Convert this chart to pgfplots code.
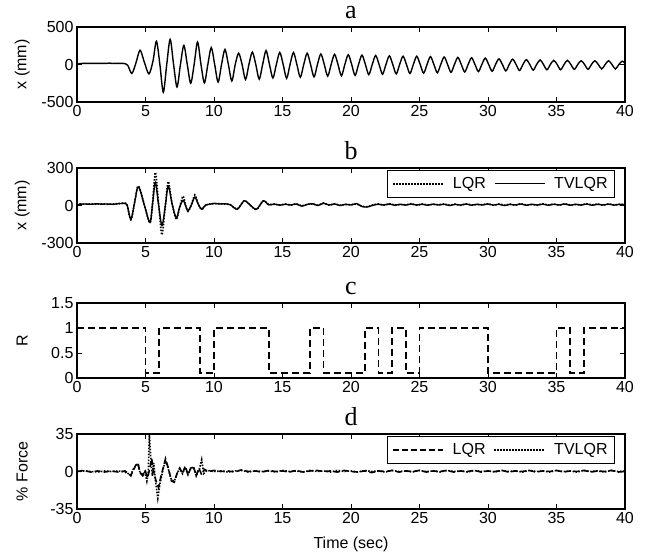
\documentclass[border=0pt]{standalone}
\usepackage{pgfplots}
\pgfplotsset{compat=1.18}
\usepackage{fontspec}
\setmainfont{Liberation Sans}
\newfontfamily\titlefont{Liberation Serif}
\begin{document}
\begin{tikzpicture}
\useasboundingbox (0,0) rectangle (646pt,557pt);
\pgfplotsset{
  panel/.style={
    scale only axis, width=548pt, height=75pt,
    xmin=0, xmax=40, xtick={0,5,...,40},
    tick align=inside, tick pos=both,
    major tick length=5pt,
    every tick/.style={black, line width=0.9pt},
    axis line style={line width=1.1pt},
    tick label style={font=\fontsize{16}{19}\selectfont},
    label style={font=\fontsize{16}{19}\selectfont},
    /pgf/number format/assume math mode=true,
    title style={font=\titlefont\fontsize{26}{30}\selectfont, at={(0.5,1)}, anchor=base, yshift=2pt},
    ylabel style={at={(axis description cs:-0.1,0.5)}, anchor=center},
    legend columns=2,
    legend style={at={(0.982,0.975)}, anchor=north east, draw=black, line width=1.1pt,
      font=\fontsize{16}{19}\selectfont, inner xsep=5pt, inner ysep=5pt,
      /tikz/every odd column/.append style={column sep=7pt},
      /tikz/every even column/.append style={column sep=6pt}},
    legend image code/.code={\draw[#1] (0pt,0pt) -- (50pt,0pt);},
  },
  dotl/.style={black, line width=1.6pt, dash pattern=on 1.5pt off 1.5pt},
  dashl/.style={black, line width=1.6pt, dash pattern=on 7pt off 4pt},
  solidl/.style={black, line width=1.4pt},
}
% ---------------- a
\begin{axis}[panel, at={(77pt,455pt)}, anchor=south west,
  ymin=-500, ymax=500, ytick={-500,0,500}, ylabel={x (mm)}, title={a}]
\addplot[solidl, smooth] coordinates {
(0,0) (0.15,10) (0.4,15) (1,15) (1.6,15) (2.2,15) (2.4,20) (2.5,14) (3,15) (3.4,14) (3.7,-10) (4.0,-120) (4.3,20) (4.6,190) (4.9,40) (5.25,-125) (5.55,50) (5.8,310) (6.05,0) (6.3,-370) (6.55,0) (6.8,335) (7.05,0) (7.3,-300) (7.55,0) (7.8,255) (8.05,0) (8.3,-250) (8.55,0) (8.8,300) (9.05,0) (9.3,-245) (9.55,0) (9.8,225) (10.05,0) (10.3,-235) (10.55,0) (10.8,200) (11.05,0) (11.3,-220) (11.55,0) (11.8,150) (12.05,0) (12.3,-200) (12.55,0) (12.8,165) (13.05,0) (13.3,-195) (13.55,0) (13.8,185) (14.05,0) (14.3,-180) (14.55,0) (14.8,160) (15.05,0) (15.3,-185) (15.55,0) (15.8,160) (16.05,0) (16.3,-170) (16.55,0) (16.8,150) (17.05,0) (17.3,-165) (17.55,0) (17.8,140) (18.05,0) (18.3,-155) (18.55,0) (18.8,135) (19.05,0) (19.3,-150) (19.55,0) (19.8,130) (20.05,0) (20.3,-145) (20.55,0) (20.8,125) (21.05,0) (21.3,-135) (21.55,0) (21.8,120) (22.05,0) (22.3,-130) (22.55,0) (22.8,115) (23.05,0) (23.3,-125) (23.55,0) (23.8,110) (24.05,0) (24.3,-120) (24.55,0) (24.8,110) (25.05,0) (25.3,-115) (25.55,0) (25.8,105) (26.05,0) (26.3,-110) (26.55,0) (26.8,100) (27.05,0) (27.3,-105) (27.55,0) (27.8,95) (28.05,0) (28.3,-100) (28.55,0) (28.8,90) (29.05,0) (29.3,-95) (29.55,0) (29.8,85) (30.05,0) (30.3,-90) (30.55,0) (30.8,75) (31.05,0) (31.3,-85) (31.55,0) (31.8,70) (32.05,0) (32.3,-80) (32.55,0) (32.8,65) (33.05,0) (33.3,-75) (33.55,0) (33.8,60) (34.05,0) (34.3,-70) (34.55,0) (34.8,55) (35.05,0) (35.3,-70) (35.55,0) (35.8,55) (36.05,0) (36.3,-65) (36.55,0) (36.8,50) (37.05,0) (37.3,-65) (37.55,0) (37.8,50) (38.05,0) (38.3,-60) (38.55,0) (38.8,50) (39.05,0) (39.3,-60) (39.55,0) (39.8,45) (40,15)
};
\end{axis}
% ---------------- b
\begin{axis}[panel, at={(77pt,314pt)}, anchor=south west,
  ymin=-300, ymax=300, ytick={-300,0,300}, ylabel={x (mm)}, title={b}]
\addplot[dotl, smooth] coordinates {
(0,0)(0.2,12)(0.6,10)(1.0,12)(1.4,11)(1.8,13)(2.2,10)(2.6,12)(3.0,15)(3.4,18)(3.65,5)(3.93,-115)(4.2,20)(4.42,150)(4.6,130)(4.95,-10)(5.33,-140)(5.52,20)(5.72,265)(5.95,20)(6.2,-235)(6.45,0)(6.66,192)(6.95,10)(7.25,-112)(7.5,-10)(7.74,75)(7.92,5)(8.1,-48)(8.35,5)(8.6,85)(8.85,10)(9.1,-32)(9.4,5)(9.7,12)(10.0,15)(10.4,14)(10.8,12)(11.2,6)(11.7,-28)(12.2,38)(12.6,6)(13.1,-32)(13.6,36)(14.0,8)(14.4,10)(14.8,4)(15.2,12)(15.6,2)(16.0,14)(16.4,-3)(16.8,10)(17.2,12)(17.6,2)(18.0,20)(18.4,2)(18.8,14)(19.2,2)(19.6,8)(20.0,6)(20.4,13)(20.8,-6)(21.2,-10)(21.6,4)(22.0,12)(22.4,2)(22.8,14)(23.2,4)(23.6,8)(24.0,5)(24.4,14)(24.8,2)(25.2,12)(25.6,4)(26.0,9)(26.4,6)(26.8,12)(27.2,2)(27.6,11)(28.0,1)(28.4,14)(28.8,4)(29.2,8)(29.6,6)(30.0,14)(30.4,1)(30.8,12)(31.2,2)(31.6,11)(32.0,2)(32.4,14)(32.8,4)(33.2,8)(33.6,5)(34.0,13)(34.4,4)(34.8,12)(35.2,2)(35.6,14)(36.0,4)(36.4,8)(36.8,5)(37.2,14)(37.6,4)(38.0,12)(38.4,2)(38.8,13)(39.2,5)(39.6,8)(40,7)
};
\addlegendentry{LQR}
\addplot[solidl, smooth] coordinates {
(0,0)(0.2,10)(0.6,12)(1.0,10)(1.4,13)(1.8,11)(2.2,12)(2.6,10)(3.0,14)(3.4,17)(3.65,5)(3.93,-110)(4.2,20)(4.42,145)(4.6,125)(4.95,-10)(5.33,-135)(5.52,20)(5.72,185)(5.95,10)(6.2,-160)(6.45,0)(6.66,155)(6.95,10)(7.25,-100)(7.5,-10)(7.74,42)(7.92,0)(8.1,-42)(8.35,5)(8.6,67)(8.85,10)(9.1,-28)(9.4,5)(9.7,10)(10.0,17)(10.4,12)(10.8,14)(11.2,5)(11.7,-30)(12.2,37)(12.6,8)(13.1,-30)(13.6,38)(14.0,5)(14.4,12)(14.8,2)(15.2,10)(15.6,4)(16.0,12)(16.4,-5)(16.8,8)(17.2,14)(17.6,0)(18.0,18)(18.4,4)(18.8,12)(19.2,0)(19.6,10)(20.0,4)(20.4,15)(20.8,-8)(21.2,-12)(21.6,2)(22.0,10)(22.4,4)(22.8,12)(23.2,2)(23.6,10)(24.0,3)(24.4,12)(24.8,4)(25.2,10)(25.6,2)(26.0,11)(26.4,4)(26.8,10)(27.2,0)(27.6,9)(28.0,3)(28.4,12)(28.8,2)(29.2,10)(29.6,4)(30.0,12)(30.4,3)(30.8,10)(31.2,0)(31.6,9)(32.0,4)(32.4,12)(32.8,2)(33.2,10)(33.6,3)(34.0,11)(34.4,2)(34.8,10)(35.2,4)(35.6,12)(36.0,2)(36.4,10)(36.8,3)(37.2,12)(37.6,2)(38.0,10)(38.4,4)(38.8,11)(39.2,3)(39.6,10)(40,5)
};
\addlegendentry{TVLQR}
\end{axis}
% ---------------- c
\begin{axis}[panel, at={(77pt,179pt)}, anchor=south west,
  ymin=0, ymax=1.5, ytick={0,0.5,1,1.5}, ylabel={R}, title={c}]
\addplot[dashl] coordinates {
(0,1)(5,1)(5,0.1)(6,0.1)(6,1)(9,1)(9,0.1)(10,0.1)(10,1)(14,1)(14,0.1)(17,0.1)(17,1)(18,1)(18,0.1)(21,0.1)(21,1)(22,1)(22,0.1)(23,0.1)(23,1)(24,1)(24,0.1)(25,0.1)(25,1)(30,1)(30,0.1)(35,0.1)(35,1)(36,1)(36,0.1)(37,0.1)(37,1)(40,1)(40,0.1)
};
\end{axis}
% ---------------- d
\begin{axis}[panel, at={(77pt,48pt)}, anchor=south west,
  ymin=-35, ymax=35, ytick={-35,0,35}, ylabel={\% Force}, title={d}, xlabel={Time (sec)},
  xlabel style={yshift=-6pt}]
\addplot[black, line width=1.6pt, dash pattern=on 6pt off 3pt] coordinates {
(0,0)(0.5,1)(1,-0.5)(1.5,0.5)(2,-0.5)(2.5,0.5)(3,-0.5)(3.5,0.5)(3.75,-2)(3.93,-4)(4.1,1)(4.3,6)(4.45,8)(4.6,-1)(4.8,-4)(5.0,0)(5.15,-6)(5.3,2)(5.45,12)(5.6,0)(5.75,-8)(5.95,-15)(6.1,-6)(6.3,4)(6.46,12)(6.65,4)(6.9,-9)(7.1,-10)(7.3,-2)(7.5,3)(7.7,-2)(7.9,5)(8.1,-3)(8.3,3)(8.5,5)(8.7,-4)(8.9,3)(9.1,-3)(9.3,2)(9.6,0)(10,1)(10.5,0)(11,0.5)(11.5,-0.5)(12,1.5)(12.5,0)(13,0.5)(13.5,-0.5)(14,1)(14.5,0)(15,0.5)(15.5,-0.5)(16,1)(16.5,-0.5)(17,0.5)(17.5,1)(18,0)(18.5,0.5)(19,-0.5)(19.5,1)(20,0)(20.5,-0.5)(21,0.5)(21.5,-1)(22,0.5)(22.5,0)(23,1)(23.5,-0.5)(24,0.5)(24.5,0)(25,1)(25.5,-0.5)(26,0.5)(26.5,0)(27,1)(27.5,-0.5)(28,0.5)(28.5,0)(29,1)(29.5,-0.5)(30,0.5)(30.5,0)(31,1)(31.5,-0.5)(32,0.5)(32.5,0)(33,1)(33.5,-0.5)(34,0.5)(34.5,0)(35,1)(35.5,-0.5)(36,0.5)(36.5,0)(37,1)(37.5,-0.5)(38,0.5)(38.5,0)(39,1)(39.5,-0.5)(40,0)
};
\addlegendentry{LQR}
\addplot[dotl] coordinates {
(0,0)(0.5,0.5)(1,0)(1.5,-0.5)(2,0.5)(2.5,0)(3,0.5)(3.5,-0.5)(3.75,-2)(3.93,-3)(4.1,2)(4.3,6)(4.45,7)(4.6,-1)(4.8,-3)(4.95,0)(5.1,-9)(5.2,-2)(5.28,35)(5.4,10)(5.5,-4)(5.6,8)(5.7,-6)(5.9,-25)(6.05,-12)(6.3,3)(6.46,10)(6.65,3)(6.9,-8)(7.1,-9)(7.3,-2)(7.5,3)(7.7,-2)(7.9,4)(8.1,-3)(8.3,3)(8.5,4)(8.7,-4)(8.95,3)(9.1,11)(9.25,-2)(9.5,1)(10,0)(10.5,0.5)(11,-0.5)(11.5,0.5)(12,1)(12.5,-0.5)(13,0.5)(13.5,0)(14,0.5)(14.5,-0.5)(15,1)(15.5,0)(16,0.5)(16.5,-0.5)(17,1)(17.5,0)(18,0.5)(18.5,-0.5)(19,1)(19.5,0)(20,0.5)(20.5,-0.5)(21,1)(21.5,0)(22,0.5)(22.5,-0.5)(23,1)(23.5,0)(24,0.5)(24.5,-0.5)(25,1)(25.5,0)(26,0.5)(26.5,-0.5)(27,1)(27.5,0)(28,0.5)(28.5,-0.5)(29,1)(29.5,0)(30,0.5)(30.5,-0.5)(31,1)(31.5,0)(32,0.5)(32.5,-0.5)(33,1)(33.5,0)(34,0.5)(34.5,-0.5)(35,1)(35.5,0)(36,0.5)(36.5,-0.5)(37,1)(37.5,0)(38,0.5)(38.5,-0.5)(39,1)(39.5,0)(40,0.5)
};
\addlegendentry{TVLQR}
\end{axis}
\end{tikzpicture}
\end{document}
